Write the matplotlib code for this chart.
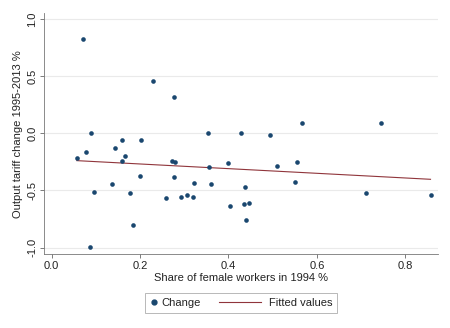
import numpy as np
import matplotlib
matplotlib.use("Agg")
import matplotlib.pyplot as plt
from matplotlib.lines import Line2D
from matplotlib.legend_handler import HandlerLine2D

plt.rcParams['font.family'] = ['Liberation Sans', 'DejaVu Sans']

# Share of female workers in 1994 (%) and output tariff change 1995-2013 (%)
female_share = [0.072, 0.230, 0.277, 0.090, 0.077, 0.057, 0.143, 0.160, 0.203,
                0.167, 0.159, 0.199, 0.137, 0.095, 0.178, 0.259, 0.185, 0.086,
                0.354, 0.428, 0.493, 0.273, 0.280, 0.357, 0.398, 0.277, 0.321,
                0.361, 0.437, 0.293, 0.306, 0.320, 0.403, 0.434, 0.447, 0.440,
                0.566, 0.746, 0.510, 0.555, 0.550, 0.711, 0.857]
tariff_change = [0.822, 0.453, 0.316, 0.004, -0.167, -0.213, -0.125, -0.061, -0.061,
                 -0.200, -0.245, -0.374, -0.441, -0.511, -0.523, -0.570, -0.801, -0.994,
                 0.004, 0.004, -0.017, -0.240, -0.251, -0.298, -0.263, -0.386, -0.433,
                 -0.441, -0.473, -0.558, -0.538, -0.561, -0.637, -0.617, -0.611, -0.757,
                 0.094, 0.091, -0.289, -0.248, -0.430, -0.526, -0.541]

x_ticks = [0.0, 0.2, 0.4, 0.6, 0.8]
x_tick_labels = ["0.0", "0.2", "0.4", "0.6", "0.8"]
y_ticks = [-1.0, -0.5, 0.0, 0.5, 1.0]
y_tick_labels = ["-1.0", "-0.5", "0.0", "0.5", "1.0"]

navy = "#1a476f"
maroon = "#90353b"
FS = 8


class LongLineHandler(HandlerLine2D):
    """Legend line drawn longer than the (short) shared handle box."""
    def create_artists(self, legend, orig_handle, xdescent, ydescent,
                       width, height, fontsize, trans):
        yc = height / 2 - ydescent
        x1 = -xdescent + width - 0.45 * fontsize
        x0 = x1 - 3.7 * fontsize
        ln = Line2D([x0, x1], [yc, yc], color=orig_handle.get_color(),
                    lw=orig_handle.get_linewidth())
        ln.set_transform(trans)
        return [ln]


x = np.array(female_share)
y = np.array(tariff_change)
slope, intercept = np.polyfit(x, y, 1)
xf = np.array([x.min(), x.max()])
yf = intercept + slope * xf

fig = plt.figure(figsize=(4.5, 3.28), dpi=100)
ax = fig.add_axes([0.0984, 0.2247, 0.875, 0.735])

ax.scatter(x, y, s=11, color=navy, zorder=3, linewidths=0)
ax.plot(xf, yf, color=maroon, lw=0.8, zorder=2)

ax.set_xlim(-0.0167, 0.874)
ax.set_ylim(-1.058, 1.05)
ax.set_xticks(x_ticks)
ax.set_xticklabels(x_tick_labels)
ax.set_yticks(y_ticks)
ax.set_yticklabels(y_tick_labels, rotation=90, va='center')
ax.tick_params(axis='both', labelsize=FS, length=3, width=0.6, color='#666666',
               pad=2, labelcolor='#222222')
ax.grid(axis='y', color='#eaeaea', lw=0.8)
ax.set_axisbelow(True)
for s in ['top', 'right']:
    ax.spines[s].set_visible(False)
for s in ['left', 'bottom']:
    ax.spines[s].set_color('#777777')
    ax.spines[s].set_linewidth(0.6)

ax.set_xlabel("Share of female workers in 1994 %", fontsize=FS, labelpad=1,
              color='#222222')
ax.set_ylabel("Output tariff change 1995-2013 %", fontsize=FS, labelpad=3,
              color='#222222')

h_change = Line2D([], [], marker='o', ls='none', color=navy, markersize=3.5)
h_fit = Line2D([], [], color=maroon, lw=0.8)
leg = fig.legend([h_change, h_fit], ["Change", "Fitted values"], loc='center',
                 bbox_to_anchor=(241 / 450, 1 - 302.5 / 328), ncol=2, fontsize=FS,
                 frameon=True, fancybox=False, edgecolor='#999999',
                 handlelength=0.8, columnspacing=5.0, handletextpad=0.3,
                 borderpad=0.45, handler_map={h_fit: LongLineHandler()})
leg.get_frame().set_linewidth(0.6)
for t in leg.get_texts():
    t.set_color('#222222')

fig.savefig("out.png", dpi=100, facecolor='white')
